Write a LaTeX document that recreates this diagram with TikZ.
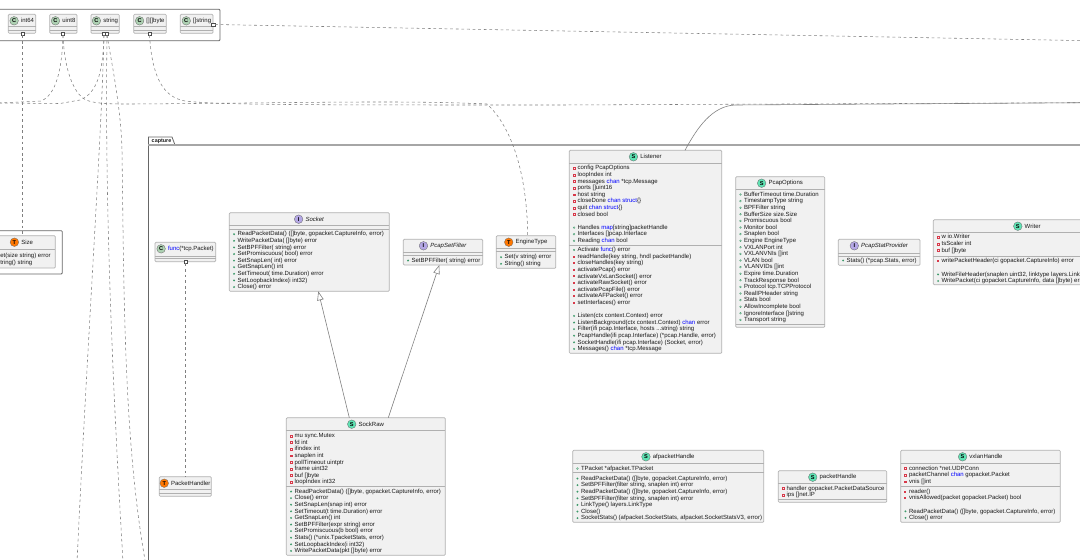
\documentclass[tikz,border=0pt]{standalone}
\usepackage{fontspec}
\setmainfont{Liberation Sans}
\usetikzlibrary{arrows.meta}
\definecolor{classfill}{HTML}{F1F1F1}
\definecolor{classedge}{HTML}{B0B0B0}
\definecolor{frameedge}{HTML}{666666}
\definecolor{linkgray}{HTML}{808080}
\definecolor{spotS}{HTML}{5FE3B4}
\definecolor{spotC}{HTML}{ADD1B2}
\definecolor{spotI}{HTML}{B4A7E5}
\definecolor{spotT}{HTML}{FF7700}
\definecolor{pubgreen}{HTML}{3C9A6A}
\definecolor{privred}{HTML}{D8394A}
\definecolor{kwblue}{HTML}{0000FF}
\tikzset{
  classbody/.style={draw=classedge,fill=classfill,line width=.7pt,rounded corners=1pt,inner sep=0pt,outer sep=0pt,anchor=north west},
  classline/.style={draw=classedge,line width=.6pt},
  spotmark/.style={circle,draw=frameedge,line width=.3pt,minimum size=8.6pt,inner sep=0pt,font=\fontsize{5.6}{6}\selectfont\bfseries},
  classtitle/.style={inner sep=0pt,font=\fontsize{6}{6.6}\selectfont,text=black!90},
  rowtext/.style={inner sep=0pt,anchor=north west,align=left,font=\fontsize{6}{6.6}\selectfont,text=black!90},
  port/.style={draw=black!70,fill=white,line width=.5pt,minimum size=3.4pt,inner sep=0pt,outer sep=0pt},
  framebox/.style={draw=frameedge,line width=.8pt,rounded corners=1pt},
  uses/.style={draw=linkgray,line width=.55pt,dash pattern=on 2.8pt off 2.8pt},
  owns/.style={draw=linkgray,line width=.6pt},
  extends/.style={draw=linkgray,line width=.6pt,-{Triangle[open,length=9pt,width=6.5pt,fill=white]}},
}
\newcommand{\rowstrut}{\rule[-1.9pt]{0pt}{6.6pt}}
\newcommand{\mpub}{\rowstrut\tikz[baseline=0pt]{\fill[pubgreen] (1.3pt,1.7pt) circle (1.05pt);}\hspace{2.5pt}}
\newcommand{\fpub}{\rowstrut\tikz[baseline=0pt]{\draw[pubgreen,line width=.35pt] (1.3pt,1.7pt) circle (.9pt);}\hspace{2.5pt}}
\newcommand{\mpriv}{\rowstrut\tikz[baseline=0pt]{\fill[privred] (.3pt,.7pt) rectangle (2.3pt,2.7pt);}\hspace{2.6pt}}
\newcommand{\fpriv}{\rowstrut\tikz[baseline=0pt]{\draw[privred,line width=.35pt] (.4pt,.8pt) rectangle (2.2pt,2.6pt);}\hspace{2.5pt}}
\newcommand{\blankrow}{\rowstrut}
\newcommand{\kw}[1]{\textcolor{kwblue}{#1}}
% name, x1, y1, x2, y2, letter, colour, title
\newcommand{\classbox}[8]{
  \node[classbody,minimum width={(#4-#2)*1pt},minimum height={(#5-#3)*1pt}] (#1) at (#2,#3) {};
  \node[classtitle] (#1title) at ({(#2+#4)/2},#3+6.5) {\hspace{11pt}#8};
  \node[spotmark,fill=#7] (#1spot) at ([xshift=4.3pt]#1title.west) {#6};
}
\newcommand{\classdiv}[2]{\draw[classline] (#1.west |- 0,#2) -- (#1.east |- 0,#2);}
% name, box, y of the first row, rows
\newcommand{\classrows}[4]{\node[rowtext] (#1) at ([xshift=3.5pt]#2.west |- 0,#3-3) {#4};}
\begin{document}
\begin{tikzpicture}[x=1pt,y=-1pt]
\path[use as bounding box,clip] (0,0) rectangle (1080,560);
% packages
\draw[framebox] (-10,9.3) -- (220,9.3) -- (220,40.7) -- (-10,40.7);
\draw[framebox] (-30,230.7) -- (62.3,230.7) -- (62.3,274) -- (-30,274);
\draw[draw=frameedge,line width=.8pt] (148.4,570) -- (148.4,137) -- (172,137) -- (175,145);
\draw[draw=black!35,line width=1.3pt] (148.4,145) -- (1090,145);
\node[classtitle,font=\fontsize{5.4}{6}\selectfont\bfseries] (capturename) at (161.5,140.8) {capture};
% builtin types
\classbox{int64}{8.3}{14.3}{35.7}{33.3}{C}{spotC}{int64}
\classdiv{int64}{26.7}\classdiv{int64}{30}
\classbox{uinteight}{49.7}{14.3}{77}{33.3}{C}{spotC}{uint8}
\classdiv{uinteight}{26.7}\classdiv{uinteight}{30}
\classbox{stringt}{91}{14.3}{119.3}{33.3}{C}{spotC}{string}
\classdiv{stringt}{26.7}\classdiv{stringt}{30}
\classbox{bytes}{133.7}{14.3}{166.3}{33.3}{C}{spotC}{[][]byte}
\classdiv{bytes}{26.7}\classdiv{bytes}{30}
\classbox{strings}{180.3}{14.3}{213}{33.3}{C}{spotC}{[]string}
\classdiv{strings}{26.7}\classdiv{strings}{30}
\node[port] (pint) at (22.5,33.5) {};
\node[port] (puint) at (63,33.5) {};
\node[port] (pstringa) at (104,33.5) {};
\node[port] (pstringb) at (107,33.5) {};
\node[port] (pbytes) at (149.5,33.5) {};
\node[port] (pstrings) at (213.3,24.5) {};
% size
\classbox{size}{-12}{235.7}{55.3}{268}{T}{spotT}{Size}
\classdiv{size}{249}
\classrows{sizerows}{size}{255.5}{\mpub Set(size string) error\\\mpub String() string}
% capture
\classbox{socket}{229.3}{212.7}{389.3}{291.3}{I}{spotI}{\textit{Socket}}
\classdiv{socket}{225}\classdiv{socket}{229.3}
\classrows{socketrows}{socket}{234}{\mpub ReadPacketData() ([]byte, gopacket.CaptureInfo, error)\\
\mpub WritePacketData( []byte) error\\
\mpub SetBPFFilter( string) error\\
\mpub SetPromiscuous( bool) error\\
\mpub SetSnapLen( int) error\\
\mpub GetSnapLen() int\\
\mpub SetTimeout( time.Duration) error\\
\mpub SetLoopbackIndex(i int32)\\
\mpub Close() error}
\classbox{funcpacket}{155}{242.3}{215.7}{261.7}{C}{spotC}{\kw{func}(*tcp.Packet)}
\classdiv{funcpacket}{256}\classdiv{funcpacket}{258.7}
\node[port] (pfunc) at (185.5,261.7) {};
\classbox{packethandler}{159.3}{476.7}{211.3}{496.3}{T}{spotT}{PacketHandler}
\classdiv{packethandler}{489.3}\classdiv{packethandler}{492.8}
\classbox{sockraw}{286.3}{417.7}{445.3}{555.3}{S}{spotS}{SockRaw}
\classdiv{sockraw}{430.7}\classdiv{sockraw}{486}
\classrows{sockrawfields}{sockraw}{435.7}{\fpriv mu sync.Mutex\\
\fpriv fd int\\
\fpriv ifindex int\\
\fpriv snaplen int\\
\fpriv pollTimeout uintptr\\
\fpriv frame uint32\\
\fpriv buf []byte\\
\fpriv loopIndex int32}
\classrows{sockrawmethods}{sockraw}{491.3}{\mpub ReadPacketData() ([]byte, gopacket.CaptureInfo, error)\\
\mpub Close() error\\
\mpub SetSnapLen(snap int) error\\
\mpub SetTimeout(t time.Duration) error\\
\mpub GetSnapLen() int\\
\mpub SetBPFFilter(expr string) error\\
\mpub SetPromiscuous(b bool) error\\
\mpub Stats() (*unix.TpacketStats, error)\\
\mpub SetLoopbackIndex(i int32)\\
\mpub WritePacketData(pkt []byte) error}
\classbox{setfilter}{403.3}{239.3}{482.7}{265}{I}{spotI}{\textit{PcapSetFilter}}
\classdiv{setfilter}{252.7}\classdiv{setfilter}{255.7}
\classrows{setfilterrows}{setfilter}{260.3}{\mpub SetBPFFilter( string) error}
\classbox{enginetype}{496.3}{235.7}{555.7}{268.3}{T}{spotT}{EngineType}
\classdiv{enginetype}{248.7}\classdiv{enginetype}{251.7}
\classrows{enginerows}{enginetype}{257}{\mpub Set(v string) error\\\mpub String() string}
\classbox{listener}{569.3}{150.3}{721.7}{353.3}{S}{spotS}{Listener}
\classdiv{listener}{163.3}\classdiv{listener}{245}
\classrows{listenerfields}{listener}{168}{\fpriv config PcapOptions\\
\fpriv loopIndex int\\
\fpriv messages \kw{chan} *tcp.Message\\
\fpriv ports []uint16\\
\fpriv host string\\
\fpriv closeDone \kw{chan struct}\{\}\\
\fpriv quit \kw{chan struct}\{\}\\
\fpriv closed bool\\
\blankrow\\
\fpub Handles \kw{map}[string]packetHandle\\
\fpub Interfaces []pcap.Interface\\
\fpub Reading \kw{chan} bool}
\classrows{listenermethods}{listener}{249.7}{\mpub Activate \kw{func}() error\\
\mpriv readHandle(key string, hndl packetHandle)\\
\mpriv closeHandles(key string)\\
\mpriv activatePcap() error\\
\mpriv activateVxLanSocket() error\\
\mpriv activateRawSocket() error\\
\mpriv activatePcapFile() error\\
\mpriv activateAFPacket() error\\
\mpriv setInterfaces() error\\
\blankrow\\
\mpub Listen(ctx context.Context) error\\
\mpub ListenBackground(ctx context.Context) \kw{chan} error\\
\mpub Filter(ifi pcap.Interface, hosts ...string) string\\
\mpub PcapHandle(ifi pcap.Interface) (*pcap.Handle, error)\\
\mpub SocketHandle(ifi pcap.Interface) (Socket, error)\\
\mpub Messages() \kw{chan} *tcp.Message}
\classbox{pcapoptions}{735.7}{176.7}{824.7}{327.3}{S}{spotS}{PcapOptions}
\classdiv{pcapoptions}{189.3}\classdiv{pcapoptions}{324.3}
\classrows{pcapoptionrows}{pcapoptions}{194.3}{\fpub BufferTimeout time.Duration\\
\fpub TimestampType string\\
\fpub BPFFilter string\\
\fpub BufferSize size.Size\\
\fpub Promiscuous bool\\
\fpub Monitor bool\\
\fpub Snaplen bool\\
\fpub Engine EngineType\\
\fpub VXLANPort int\\
\fpub VXLANVNIs []int\\
\fpub VLAN bool\\
\fpub VLANVIDs []int\\
\fpub Expire time.Duration\\
\fpub TrackResponse bool\\
\fpub Protocol tcp.TCPProtocol\\
\fpub RealIPHeader string\\
\fpub Stats bool\\
\fpub AllowIncomplete bool\\
\fpub IgnoreInterface []string\\
\fpub Transport string}
\classbox{statprovider}{838.3}{239.3}{920}{265.3}{I}{spotI}{\textit{PcapStatProvider}}
\classdiv{statprovider}{253}\classdiv{statprovider}{256}
\classrows{statproviderrows}{statprovider}{260.3}{\mpub Stats() (*pcap.Stats, error)}
\classbox{writer}{933.3}{219.7}{1121}{284.7}{S}{spotS}{Writer}
\classdiv{writer}{232.7}\classdiv{writer}{256}
\classrows{writerfields}{writer}{237}{\fpriv w io.Writer\\
\fpriv tsScaler int\\
\fpriv buf []byte}
\classrows{writermethods}{writer}{261}{\mpriv writePacketHeader(ci gopacket.CaptureInfo) error\\
\blankrow\\
\mpub WriteFileHeader(snaplen uint32, linktype layers.LinkType) error\\
\mpub WritePacket(ci gopacket.CaptureInfo, data []byte) error}
\classbox{afpacket}{572.7}{450.3}{763.7}{522.3}{S}{spotS}{afpacketHandle}
\classdiv{afpacket}{463.3}\classdiv{afpacket}{472.3}
\classrows{afpacketfields}{afpacket}{468.4}{\fpub TPacket *afpacket.TPacket}
\classrows{afpacketmethods}{afpacket}{478.3}{\mpub ReadPacketData() ([]byte, gopacket.CaptureInfo, error)\\
\mpub SetBPFFilter(filter string, snaplen int) error\\
\mpub ReadPacketData() ([]byte, gopacket.CaptureInfo, error)\\
\mpub SetBPFFilter(filter string, snaplen int) error\\
\mpub LinkType() layers.LinkType\\
\mpub Close()\\
\mpub SocketStats() (afpacket.SocketStats, afpacket.SocketStatsV3, error)}
\classbox{packethandle}{778.3}{470.7}{886.7}{502.3}{S}{spotS}{packetHandle}
\classdiv{packethandle}{483.3}\classdiv{packethandle}{499.3}
\classrows{packethandlerows}{packethandle}{488.3}{\fpriv handler gopacket.PacketDataSource\\
\fpriv ips []net.IP}
\classbox{vxlan}{900.7}{450.3}{1060.3}{522.3}{S}{spotS}{vxlanHandle}
\classdiv{vxlan}{463.3}\classdiv{vxlan}{486.3}
\classrows{vxlanfields}{vxlan}{468.3}{\fpriv connection *net.UDPConn\\
\fpriv packetChannel \kw{chan} gopacket.Packet\\
\fpriv vnis []int}
\classrows{vxlanmethods}{vxlan}{491.3}{\mpriv reader()\\
\mpriv vnisAllowed(packet gopacket.Packet) bool\\
\blankrow\\
\mpub ReadPacketData() ([]byte, gopacket.CaptureInfo, error)\\
\mpub Close() error}
% links
\coordinate (edgew) at (-2,103);
\coordinate (edgee) at (1082,102.7);
\draw[uses] (pint.south) -- (pint.south |- size.north);
\draw[uses] (puint.south) .. controls (62,70) and (56,95) .. (41,101) -- (edgew);
\draw[uses] (puint.south) .. controls (64,65) and (72,93) .. (86,100) .. controls (95,104) and (115,104) .. (130,104) .. controls (300,103) and (400,100) .. (487,104) .. controls (510,125) and (527,170) .. (enginetype.north -| 527.7,0);
\draw[uses] (pstringa.south) .. controls (103,70) and (98,93) .. (80,100) -- (60,103.5) -- (edgew);
\draw[uses] (pstringa.south) .. controls (102,130) and (88,330) .. (77,562);
\draw[uses] (pstringb.south) .. controls (105,180) and (110,340) .. (123,562);
\draw[uses] (pstringb.south) .. controls (113,70) and (121,110) .. (122,150) .. controls (124,300) and (124,440) .. (145,560);
\draw[uses] (pbytes.south) .. controls (152,75) and (162,97) .. (185,101) .. controls (220,105) and (300,105) .. (560,105) -- (edgee);
\draw[uses] (pstrings.east) -- (1082,40.6);
\draw[uses] (pfunc.south) -- (pfunc.south |- packethandler.north);
\draw[owns] ([xshift=115.7pt]listener.north west) .. controls (697,128) and (712,106) .. (735,105) -- (edgee);
\draw[extends] ([xshift=63pt]sockraw.north west) -- ([xshift=89pt]socket.south west);
\draw[extends] ([xshift=102pt]sockraw.north west) -- ([xshift=36pt]setfilter.south west);
\end{tikzpicture}
\end{document}
